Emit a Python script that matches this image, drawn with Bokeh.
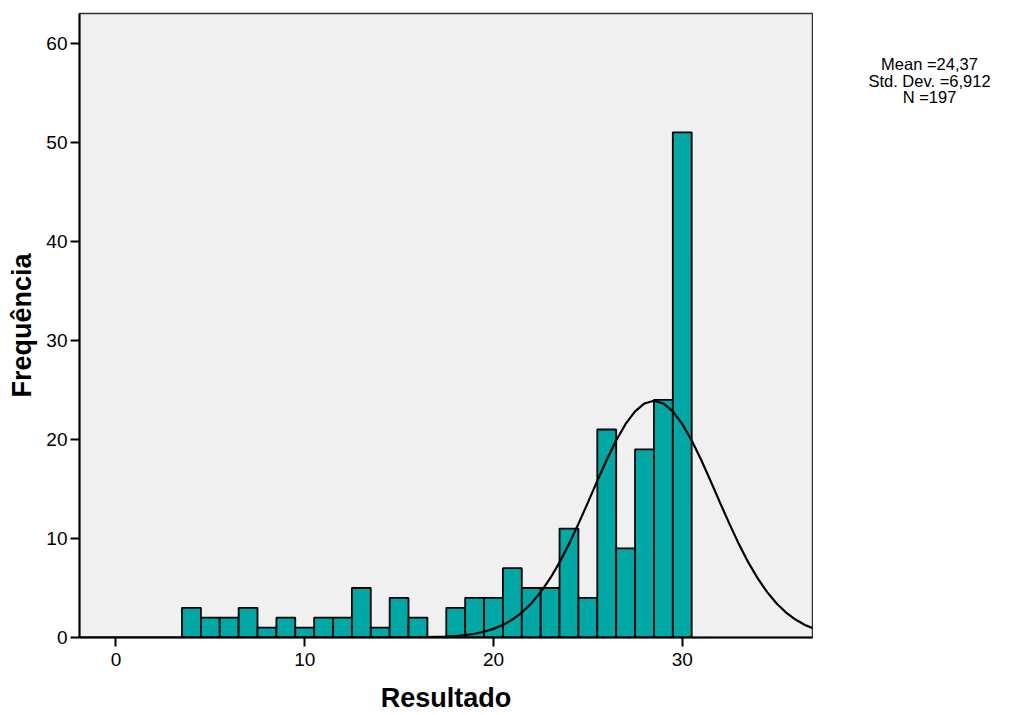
from bokeh.plotting import figure
from bokeh.models import ColumnDataSource, FixedTicker
from bokeh.layouts import row
from bokeh.core.properties import value
from bokeh.embed import file_html
from bokeh.resources import INLINE

# Histogram bins (centers) and frequencies
bin_centers = [4, 5, 6, 7, 8, 9, 10, 11, 12, 13, 14, 15, 16, 17, 18, 19, 20,
               21, 22, 23, 24, 25, 26, 27, 28, 29, 30]
frequencies = [3, 2, 2, 3, 1, 2, 1, 2, 2, 5, 1, 4, 2, 0, 3, 4, 4,
               7, 5, 5, 11, 4, 21, 9, 19, 24, 51]

# Normal curve
curve_x = [-2, 0, 5, 10, 14, 15, 16, 16.5, 17, 17.5, 18, 18.5, 19, 19.5, 20, 20.5,
           21, 21.5, 22, 22.5, 23, 23.5, 24, 24.5, 25, 25.5, 26, 26.5, 27, 27.5,
           28, 28.5, 29, 29.5, 30, 30.5, 31, 31.5, 32, 32.5, 33, 33.5, 34, 34.5,
           35, 35.5, 36, 36.5, 37]
curve_y = [0.0, 0.0, 0.0, 0.0, 0.0, 0.01, 0.02, 0.03, 0.06, 0.09, 0.15, 0.24, 0.38, 0.58,
           0.87, 1.27, 1.81, 2.52, 3.43, 4.58, 5.96, 7.58, 9.43, 11.47, 13.62, 15.81,
           17.94, 19.89, 21.56, 22.83, 23.63, 23.9, 23.63, 22.83, 21.56, 19.89, 17.94,
           15.81, 13.62, 11.47, 9.43, 7.58, 5.96, 4.58, 3.43, 2.52, 1.81, 1.27, 0.87]

x_ticks = [0, 10, 20, 30]
y_ticks = [0, 10, 20, 30, 40, 50, 60]
stats_lines = ["Mean =24,37", "Std. Dev. =6,912", "N =197"]

FONT = "Liberation Sans"

p = figure(width=813, height=715, output_backend="svg", toolbar_location=None,
           x_range=(-1.93, 36.9), y_range=(0, 63.0),
           min_border_left=79, min_border_right=1, min_border_top=13, min_border_bottom=78)

p.background_fill_color = "#F0F0F0"
p.border_fill_color = "white"
p.outline_line_color = "#333333"
p.outline_line_width = 1.5
p.xgrid.visible = False
p.ygrid.visible = False

src = ColumnDataSource(dict(x=bin_centers, top=frequencies))
p.vbar(x="x", top="top", bottom=0, width=1.0, source=src,
       fill_color="#00A8A5", line_color="black", line_width=1.8)

p.line(curve_x, curve_y, line_color="black", line_width=2.2)

for ax in (p.xaxis[0], p.yaxis[0]):
    ax.axis_line_color = "black"
    ax.axis_line_width = 2
    ax.major_tick_line_color = "black"
    ax.major_tick_line_width = 2
    ax.major_tick_out = 9
    ax.major_tick_in = 0
    ax.minor_tick_line_color = None
    ax.major_label_text_font = FONT
    ax.major_label_text_font_size = "19px"
    ax.major_label_text_color = "black"
    ax.axis_label_text_font = FONT
    ax.axis_label_text_font_size = "27px"
    ax.axis_label_text_font_style = "bold"
    ax.axis_label_text_color = "black"

p.xaxis[0].ticker = FixedTicker(ticks=x_ticks)
p.yaxis[0].ticker = FixedTicker(ticks=y_ticks)
p.xaxis[0].axis_label = "Resultado"
p.yaxis[0].axis_label = "Frequência"
p.xaxis[0].major_label_standoff = 6
p.xaxis[0].axis_label_standoff = 14
p.yaxis[0].major_label_standoff = 3
p.yaxis[0].axis_label_standoff = 6

# Side panel with the summary statistics
side = figure(width=205, height=715, output_backend="svg", toolbar_location=None,
              x_range=(813, 1018), y_range=(715, 0),
              min_border_left=0, min_border_right=0, min_border_top=0, min_border_bottom=0)
side.axis.visible = False
side.xgrid.visible = False
side.ygrid.visible = False
side.outline_line_color = None
side.background_fill_color = "white"
side.border_fill_color = "white"
side.text(x=[929, 929, 929], y=[58, 77, 96], text=stats_lines,
          text_align="center", text_baseline="middle",
          text_font=value(FONT), text_font_size="16.5px", text_color="black")

layout = row(p, side, spacing=0)
open("out.html", "w").write(file_html(layout, INLINE))
